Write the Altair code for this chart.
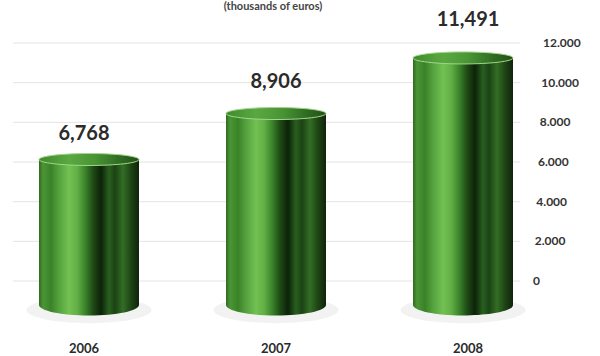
import altair as alt
import pandas as pd

# ---- data ----
years = [2006, 2007, 2008]
values = [6768, 8906, 11491]
value_labels = ["6,768", "8,906", "11,491"]
year_labels = ["2006", "2007", "2008"]
tick_values = [0, 2000, 4000, 6000, 8000, 10000, 12000]
tick_labels = ["0", "2.000", "4.000", "6.000", "8.000", "10.000", "12.000"]
subtitle = "(thousands of euros)"

bars_df = pd.DataFrame({"year": years, "value": values,
                        "label": value_labels, "ylabel": year_labels})
ticks_df = pd.DataFrame({"tick": tick_values, "label": tick_labels})
title_df = pd.DataFrame({"t": [subtitle]})

FONT = "Lato"

# ---- scales ----
x_year = alt.Scale(domain=[2006, 2008], range=[84, 468], nice=False, zero=False)
base, k = 305, 0.0215
y_bar = alt.Scale(domain=[0, 14000], range=[base, base - k * 14000], nice=False)
y_axis = alt.Scale(domain=[0, 12000], range=[281, 43], nice=False)
y_lab = alt.Scale(domain=[0, 14000], range=[304, 304 - 0.0242 * 14000], nice=False)
x_tick = alt.Scale(domain=[0, 12000], range=[533, 543], nice=False, zero=False)

def grad(stops):
    return alt.LinearGradient(
        gradient="linear", x1=0, x2=1, y1=0, y2=0,
        stops=[alt.GradientStop(offset=o, color=c) for o, c in stops])

body_grad = grad([
    (0.00, "#2f6a22"), (0.04, "#4c9535"), (0.12, "#3a8228"), (0.20, "#55a23f"),
    (0.30, "#72c152"), (0.38, "#63b046"), (0.46, "#3c852b"), (0.54, "#1e4b16"),
    (0.62, "#0c2208"), (0.70, "#295f1f"), (0.76, "#1b4314"), (0.84, "#336d25"),
    (0.92, "#1d4515"), (1.00, "#0f230b"),
])
top_grad = grad([
    (0.00, "#3f8a2e"), (0.30, "#5aa842"), (0.55, "#4a9636"),
    (0.80, "#2f6d23"), (1.00, "#244f19"),
])

top_shape = "M -1 0 A 1 0.12 0 1 1 1 0 A 1 0.12 0 1 1 -1 0 Z"
bot_shape = "M -1 0 A 1 0.21 0 1 1 1 0 A 1 0.21 0 1 1 -1 0 Z"

base_chart = alt.Chart(bars_df)

shadow = base_chart.mark_point(shape=bot_shape, size=125 * 125, filled=True,
                               fill="#f2f2f2", opacity=1, strokeWidth=0, yOffset=5).encode(
    x=alt.X("year:Q", scale=x_year, axis=None),
    y=alt.Y(datum=0, scale=y_bar, axis=None),
)

body = base_chart.mark_bar(width=100, fill=body_grad).encode(
    x=alt.X("year:Q", scale=x_year, axis=None),
    y=alt.Y("value:Q", scale=y_bar, axis=None),
    y2=alt.datum(0),
)

bottom = base_chart.mark_point(shape=bot_shape, size=10000, filled=True,
                               fill=body_grad, opacity=1, strokeWidth=0).encode(
    x=alt.X("year:Q", scale=x_year, axis=None),
    y=alt.Y(datum=0, scale=y_bar, axis=None),
)

top = base_chart.mark_point(shape=top_shape, size=10000, filled=True,
                            fill=top_grad, opacity=1, stroke="#a3d68a",
                            strokeWidth=1).encode(
    x=alt.X("year:Q", scale=x_year, axis=None),
    y=alt.Y("value:Q", scale=y_bar, axis=None),
)

bars = alt.layer(shadow, body, bottom, top)

value_text = base_chart.mark_text(font=FONT, fontSize=20, fontWeight="bold",
                                  color="#2b2b2b", baseline="alphabetic").encode(
    x=alt.X("year:Q", scale=x_year, axis=None),
    y=alt.Y("value:Q", scale=y_lab, axis=None),
    text="label:N",
)

year_text = base_chart.mark_text(font=FONT, fontSize=13, fontWeight="bold",
                                 color="#2b2b2b", baseline="alphabetic").encode(
    x=alt.X("year:Q", scale=x_year, axis=None),
    y=alt.value(353),
    text="ylabel:N",
)

grid = alt.Chart(ticks_df).mark_rule(color="#e4e4e4", strokeWidth=1).encode(
    x=alt.value(13), x2=alt.value(520),
    y=alt.Y("tick:Q", scale=y_axis, axis=None),
)

tick_text = alt.Chart(ticks_df).mark_text(font=FONT, fontSize=12, fontWeight="bold",
                                          color="#333333", align="left",
                                          baseline="middle").encode(
    x=alt.X("tick:Q", scale=x_tick, axis=None),
    y=alt.Y("tick:Q", scale=y_axis, axis=None),
    text="label:N",
)

title = alt.Chart(title_df).mark_text(font=FONT, fontSize=11, fontWeight="bold",
                                      color="#444444", baseline="alphabetic").encode(
    x=alt.value(273), y=alt.value(10), text="t:N",
)

chart = alt.layer(grid, tick_text, bars, value_text, year_text, title).resolve_scale(
    x="independent", y="independent"
).properties(
    width=600, height=356, padding=0, autosize="none", background="white"
).configure_view(strokeWidth=0)

chart.save("out.html", embed_options={"renderer": "svg", "actions": False})
